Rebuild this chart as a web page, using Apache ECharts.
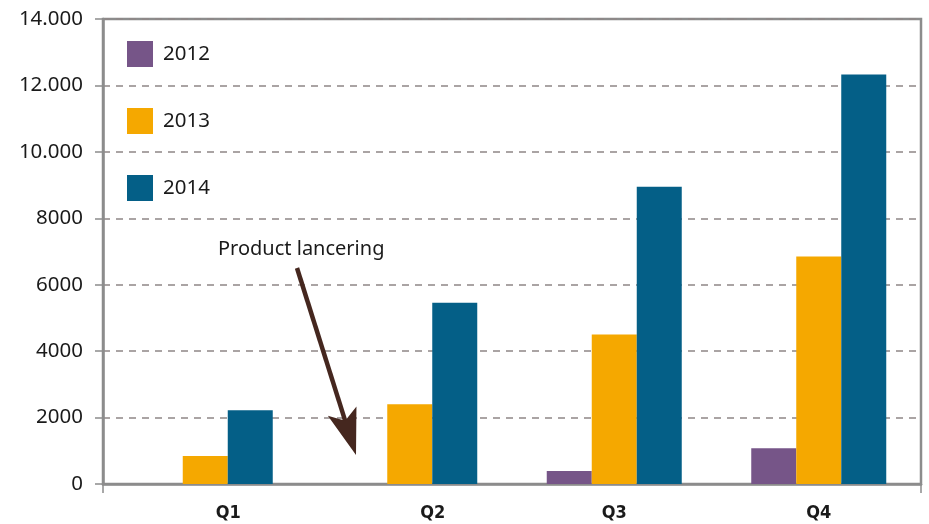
<!DOCTYPE html>
<html>
<head>
<meta charset="utf-8">
<script src="https://cdn.jsdelivr.net/npm/echarts@6/dist/echarts.min.js"></script>
<style>
html,body{margin:0;padding:0;background:#fff;}
#chart{width:929px;height:524px;}
</style>
</head>
<body>
<div id="chart"></div>
<script>
const categories = ['Q1', 'Q2', 'Q3', 'Q4'];
const seriesNames = ['2012', '2013', '2014'];
const values2012 = [null, null, 390, 1080];
const values2013 = [840, 2400, 4500, 6850];
const values2014 = [2220, 5460, 8950, 12330];
const yTickValues = [0, 2000, 4000, 6000, 8000, 10000, 12000, 14000];
const yTickLabels = ['0', '2000', '4000', '6000', '8000', '10.000', '12.000', '14.000'];
const annotationText = 'Product lancering';

const colors = ['#765588', '#f5a800', '#045f87'];
const chart = echarts.init(document.getElementById('chart'));
const font = "'Noto Sans', sans-serif";
const condensed = "'Liberation Sans Narrow', 'DejaVu Sans Condensed', 'Roboto', sans-serif";

// arrow geometry (annotation, pixel space)
const tail = [297, 268], tip = [356, 455];
const dx = tip[0] - tail[0], dy = tip[1] - tail[1];
const L = Math.sqrt(dx * dx + dy * dy);
const d = [dx / L, dy / L], n = [d[1], -d[0]];
const headLen = 46, headHalf = 15, notch = 36;
const base = [tip[0] - headLen * d[0], tip[1] - headLen * d[1]];
const w1 = [base[0] + headHalf * n[0], base[1] + headHalf * n[1]];
const w2 = [base[0] - headHalf * n[0], base[1] - headHalf * n[1]];
const nt = [tip[0] - notch * d[0], tip[1] - notch * d[1]];

chart.setOption({
  animation: false,
  backgroundColor: '#ffffff',
  color: colors,
  grid: {
    left: 103, right: 8, top: 19, bottom: 40,
    show: true, borderColor: '#8c8c8c', borderWidth: 2.5, backgroundColor: 'transparent'
  },
  legend: {
    orient: 'vertical', left: 122, top: 36,
    itemWidth: 26, itemHeight: 26, itemGap: 41,
    icon: 'rect',
    data: seriesNames,
    textStyle: { fontFamily: font, fontSize: 20.5, color: '#1a1a1a', padding: [0, 0, 0, 5] }
  },
  xAxis: {
    type: 'category',
    data: categories,
    axisLine: { lineStyle: { color: '#8c8c8c', width: 2.5 } },
    axisTick: { show: true, length: 9, interval: (i) => i === 0, lineStyle: { color: '#8c8c8c', width: 1.5 } },
    axisLabel: {
      margin: 20,
      formatter: (v, i) => (values2012[i] == null ? '{s|' + v + '}' : '{n|' + v + '}'),
      rich: {
        s: { fontFamily: condensed, fontWeight: 'bold', fontSize: 18, color: '#1a1a1a', padding: [0, 0, 0, 46] },
        n: { fontFamily: condensed, fontWeight: 'bold', fontSize: 18, color: '#1a1a1a' }
      }
    },
    splitLine: { show: false }
  },
  yAxis: {
    type: 'value',
    min: 0, max: 14000, interval: 2000,
    axisLine: { show: true, lineStyle: { color: '#8c8c8c', width: 2.5 } },
    axisTick: { show: true, length: 8, lineStyle: { color: '#8c8c8c', width: 1.5 } },
    axisLabel: {
      margin: 20,
      fontFamily: font, fontSize: 20.5, color: '#1a1a1a',
      formatter: (v) => { const k = yTickValues.indexOf(v); return k >= 0 ? yTickLabels[k] : ''; }
    },
    splitLine: { show: true, lineStyle: { color: '#8f8787', width: 1.5, type: [7, 6] } }
  },
  series: [
    { name: seriesNames[0], type: 'bar', data: values2012, barWidth: 45, barGap: '0%' },
    { name: seriesNames[1], type: 'bar', data: values2013, barWidth: 45, barGap: '0%' },
    { name: seriesNames[2], type: 'bar', data: values2014, barWidth: 45, barGap: '0%' }
  ],
  graphic: [
    {
      type: 'text', left: 218, top: 239, z: 100,
      style: { text: annotationText, fontFamily: font, fontSize: 20, fill: '#1a1a1a' }
    },
    {
      type: 'line', z: 100,
      shape: { x1: tail[0], y1: tail[1], x2: nt[0] + 2 * d[0], y2: nt[1] + 2 * d[1] },
      style: { stroke: '#45271f', lineWidth: 4.5 }
    },
    {
      type: 'polygon', z: 100,
      shape: { points: [tip, w1, nt, w2] },
      style: { fill: '#45271f' }
    }
  ]
});
</script>
</body>
</html>
